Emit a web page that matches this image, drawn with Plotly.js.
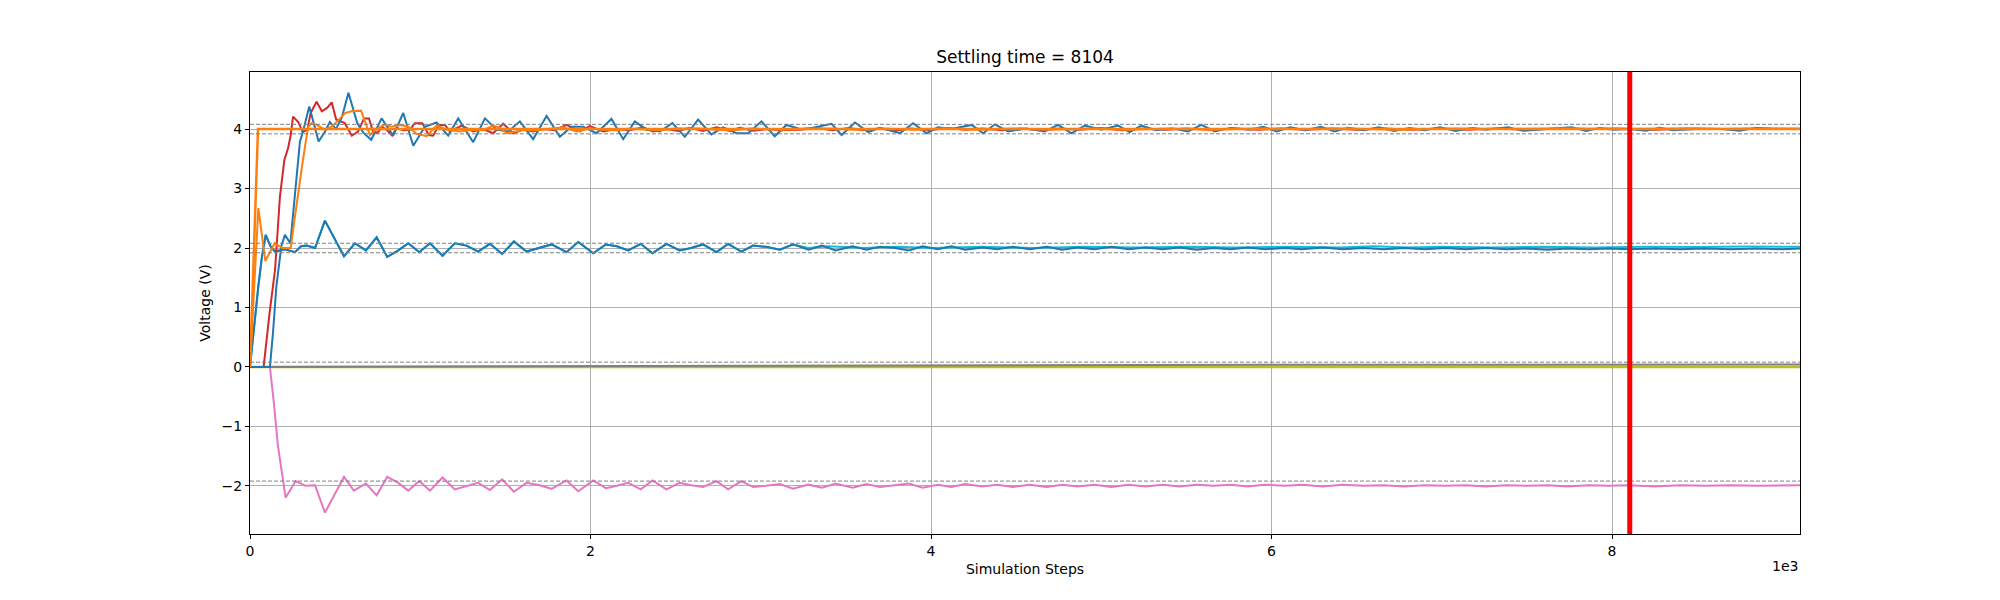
<!DOCTYPE html>
<html>
<head>
<meta charset="utf-8">
<script src="https://cdn.plot.ly/plotly-3.0.1.min.js"></script>
<style>
  html, body { margin: 0; padding: 0; background: #fff; }
  #chart { width: 2000px; height: 600px; }
</style>
</head>
<body>
<div id="chart"></div>
<script>
// settling result and tolerance band levels (gray dashed lines)
const settlingTime = 8104;
const lastStep = 9104;
const bandLevels = [4.08, 3.92, 2.08, 1.92, 0.08, -1.92];

// node voltages: steps / volts per trace
const blue2Steps = [0, 25, 49, 70, 92, 120, 147, 205, 264, 300, 333, 382, 440, 552, 616, 681, 744, 806, 871, 930,
  994, 1057, 1131, 1203, 1272, 1340, 1409, 1481, 1550, 1624, 1702, 1771, 1859, 1928, 2016, 2090, 2155, 2221, 2295, 2364,
  2446, 2524, 2590, 2661, 2740, 2808, 2886, 2955, 3030, 3112, 3190, 3280, 3360, 3440, 3540, 3620, 3700, 3790, 3870, 3950,
  4040, 4120, 4200, 4300, 4390, 4480, 4580, 4680, 4770, 4860, 4960, 5060, 5160, 5260, 5360, 5460, 5560, 5660, 5760, 5860,
  5960, 6080, 6180, 6300, 6420, 6540, 6660, 6780, 6900, 7020, 7140, 7260, 7380, 7500, 7620, 7740, 7860, 7980, 8100, 8250,
  8400, 8550, 8700, 8850, 9000, 9104];
const blue2Volts = [0, 0.75, 1.36, 1.85, 2.22, 2.03, 1.94, 1.98, 1.93, 2.03, 2.04, 2.0, 2.46, 1.86, 2.08, 1.96, 2.18, 1.85, 1.96, 2.08,
  1.93, 2.08, 1.87, 2.08, 2.04, 1.94, 2.07, 1.90, 2.11, 1.94, 2.0, 2.06, 1.93, 2.1, 1.91, 2.06, 2.03, 1.96, 2.07, 1.91,
  2.07, 1.96, 2.0, 2.06, 1.93, 2.07, 1.94, 2.04, 2.02, 1.97, 2.06, 1.97, 2.04, 1.96, 2.03, 1.97, 2.02, 2.0, 1.96, 2.03,
  1.98, 2.03, 1.97, 2.01, 1.98, 2.02, 1.98, 2.02, 1.97, 2.01, 1.98, 2.02, 1.98, 2.01, 1.98, 2.01, 1.97, 2.0, 1.98, 2.01,
  1.98, 2.0, 1.98, 2.01, 1.98, 2.0, 1.98, 2.0, 1.98, 2.0, 1.98, 2.0, 1.98, 1.99, 1.97, 1.99, 1.98, 1.99, 1.98, 1.99,
  1.98, 1.99, 1.98, 1.99, 1.98, 1.99];

// cyan node sits under blue2 early on, only its tail shows
const cyanTailSteps = [3280, 3400, 3600, 3800, 4000, 4300, 4600, 4900, 5200, 5500, 5800, 6100, 6400, 6600, 6800, 7000,
  7300, 7600, 7900, 8200, 8500, 8800, 9104];
const cyanTailVolts = [2.0, 2.03, 2.0, 2.02, 2.0, 2.02, 2.0, 2.02, 2.01, 2.02, 2.01, 2.02, 2.01, 2.03, 2.01, 2.02,
  2.01, 2.02, 2.01, 2.02, 2.015, 2.025, 2.02];

const pinkSteps = [0, 117, 140, 164, 186, 209, 268, 327, 382, 440, 552, 610, 681, 744, 806, 871, 930, 994, 1057, 1131,
  1203, 1272, 1340, 1409, 1481, 1550, 1624, 1702, 1771, 1859, 1928, 2016, 2090, 2155, 2221, 2295, 2364, 2446, 2524, 2590,
  2661, 2740, 2808, 2886, 2955, 3030, 3112, 3190, 3280, 3360, 3440, 3540, 3620, 3700, 3790, 3870, 3950, 4040, 4120, 4200,
  4300, 4390, 4480, 4580, 4680, 4770, 4860, 4960, 5060, 5160, 5260, 5360, 5460, 5560, 5660, 5760, 5860, 5960, 6080, 6180,
  6300, 6420, 6540, 6660, 6780, 6900, 7020, 7140, 7260, 7380, 7500, 7620, 7740, 7860, 7980, 8100, 8250, 8400, 8550, 8700,
  8850, 9000, 9104];
const pinkVolts = [0, 0, -0.6, -1.33, -1.75, -2.2, -1.92, -2.0, -1.99, -2.45, -1.85, -2.08, -1.96, -2.16, -1.85, -1.95, -2.08, -1.92, -2.08, -1.86,
  -2.06, -2.01, -1.95, -2.07, -1.89, -2.1, -1.95, -1.99, -2.05, -1.91, -2.09, -1.91, -2.04, -2.0, -1.95, -2.06, -1.91, -2.06, -1.95, -1.99,
  -2.02, -1.92, -2.06, -1.92, -2.02, -2.0, -1.97, -2.05, -1.98, -2.03, -1.96, -2.03, -1.97, -2.02, -1.99, -1.96, -2.03, -1.98, -2.02, -1.97,
  -2.01, -1.98, -2.02, -1.98, -2.02, -1.98, -2.01, -1.98, -2.02, -1.98, -2.01, -1.98, -2.01, -1.98, -2.0, -1.98, -2.01, -1.98, -2.0, -1.98,
  -2.01, -1.98, -2.0, -1.99, -2.01, -1.99, -2.0, -1.99, -2.01, -1.99, -2.0, -1.99, -2.01, -1.99, -2.0, -1.99, -2.01, -1.99, -2.0, -1.99,
  -2.0, -1.99, -1.99];

const redSteps = [0, 80, 115, 147, 176, 202, 224, 239, 253, 283, 310, 337, 356, 391, 422, 454, 480, 506, 557, 598,
  635, 670, 699, 724, 750, 775, 802, 835, 861, 900, 939, 969, 1012, 1050, 1076, 1110, 1145, 1174, 1243, 1311,
  1370, 1428, 1487, 1546, 1605, 1663, 1722, 1791, 1859, 1937, 1996, 2074, 2153, 2231, 2309, 2368, 2446, 2515, 2583, 2661,
  2740, 2818, 2877, 2955, 3033, 3112, 3229, 3330, 3420, 3520, 3600, 3700, 3790, 3880, 3990, 4100, 4200, 4300, 4420, 4530,
  4640, 4760, 4870, 5000, 5120, 5250, 5380, 5500, 5640, 5780, 5920, 6060, 6200, 6360, 6500, 6660, 6820, 6980, 7150, 7320,
  7500, 7680, 7860, 8040, 8250, 8450, 8650, 8850, 9104];
const redVolts = [0, 0, 0.91, 1.63, 2.87, 3.48, 3.68, 3.9, 4.21, 4.12, 3.95, 3.99, 4.27, 4.46, 4.30, 4.36, 4.45, 4.16, 4.10, 3.89,
  3.96, 4.18, 4.18, 3.94, 3.94, 4.04, 3.99, 3.89, 4.02, 3.98, 3.99, 4.10, 4.10, 3.90, 3.89, 4.07, 4.07, 3.96, 4.06, 3.96,
  4.0, 3.93, 4.09, 3.93, 3.99, 3.96, 4.0, 3.98, 4.07, 3.96, 4.05, 3.96, 4.0, 3.98, 4.03, 3.96, 4.0, 3.97, 4.02, 3.97,
  4.03, 3.97, 4.02, 3.97, 4.0, 3.98, 3.99, 4.02, 3.98, 4.02, 3.98, 4.01, 3.97, 4.01, 3.98, 4.02, 3.99, 4.01, 3.98, 4.01,
  3.98, 4.01, 3.99, 4.02, 3.98, 4.01, 3.99, 4.01, 3.99, 4.01, 3.99, 4.01, 3.99, 4.01, 3.99, 4.01, 3.99, 4.01, 3.99, 4.01,
  3.99, 4.01, 4.0, 4.01, 3.99, 4.01, 4.0, 4.01, 4.0];

const blue4Steps = [0, 117, 135, 155, 184, 205, 237, 266, 293, 321, 348, 376, 403, 439, 469, 505, 540, 578, 603, 630,
  665, 712, 773, 841, 900, 959, 1027, 1096, 1164, 1223, 1311, 1380, 1448, 1517, 1585, 1663, 1742, 1820, 1888, 1957,
  2035, 2123, 2192, 2260, 2329, 2407, 2481, 2554, 2632, 2710, 2779, 2857, 2926, 3004, 3082, 3151, 3230, 3300, 3416, 3475,
  3553, 3631, 3700, 3817, 3895, 3974, 4040, 4120, 4238, 4306, 4375, 4453, 4560, 4668, 4747, 4825, 4903, 5000, 5099, 5167,
  5236, 5320, 5420, 5510, 5588, 5666, 5760, 5872, 5950, 6030, 6110, 6200, 6290, 6370, 6450, 6540, 6630, 6720, 6810, 6900,
  6990, 7080, 7180, 7260, 7389, 7477, 7620, 7761, 7849, 7927, 8010, 8100, 8201, 8279, 8358, 8500, 8640, 8749, 8847, 8950,
  9104];
const blue4Volts = [0, 0, 0.57, 1.36, 2.03, 2.22, 2.08, 2.95, 3.78, 4.07, 4.38, 4.08, 3.79, 3.95, 4.12, 4.0, 4.2, 4.61, 4.38, 4.1,
  3.94, 3.82, 4.18, 3.89, 4.27, 3.72, 4.04, 4.11, 3.89, 4.18, 3.78, 4.18, 3.99, 3.96, 4.13, 3.83, 4.22, 3.87, 4.04, 4.04,
  3.93, 4.17, 3.83, 4.13, 3.99, 3.96, 4.10, 3.87, 4.16, 3.91, 4.03, 3.93, 3.93, 4.13, 3.88, 4.07, 4.0, 4.02, 4.09, 3.90,
  4.11, 3.95, 4.02, 3.93, 4.10, 3.93, 4.03, 4.0, 4.07, 3.93, 4.08, 3.96, 4.01, 3.96, 4.07, 3.93, 4.06, 3.99, 4.06, 3.95,
  4.06, 3.98, 4.01, 3.96, 4.07, 3.96, 4.02, 3.99, 4.04, 3.96, 4.03, 3.98, 4.04, 3.96, 4.02, 3.98, 4.03, 3.97, 4.02, 3.98,
  4.03, 3.97, 4.02, 3.99, 4.03, 3.97, 4.0, 4.03, 3.97, 4.02, 3.99, 4.0, 3.97, 4.02, 3.98, 4.0, 4.0, 3.97, 4.02, 4.0,
  4.0];

const orangeBSteps = [0, 49, 90, 145, 190, 239, 264, 284, 303, 323, 342, 362, 391, 440, 479, 520, 558, 597, 652, 675,
  704, 744, 792, 830, 881, 930, 978, 1037, 1096, 1155, 1233, 1300, 1370, 1428, 1470, 1507, 1600, 1683, 1761, 1839,
  1918, 1996, 2080, 2153, 2230, 2309, 2400, 2500, 2642, 2740, 2838, 2940, 3033, 3130, 3229, 3400, 3560, 3720, 3900, 4080,
  4280, 4480, 4700, 4920, 5150, 5400, 5650, 5900, 6150, 6450, 6750, 7050, 7350, 7700, 8050, 8400, 8750, 9104];
const orangeBVolts = [0, 2.67, 1.78, 2.08, 2.0, 2.0, 2.53, 2.98, 3.32, 3.71, 4.04, 4.1, 4.07, 3.99, 4.04, 4.15, 4.27, 4.3, 4.31, 4.13,
  3.9, 4.0, 4.08, 4.04, 4.07, 4.04, 3.92, 3.88, 4.06, 3.99, 3.96, 3.99, 3.98, 4.06, 4.02, 3.93, 3.98, 3.98, 4.01, 4.03,
  3.96, 4.01, 3.99, 3.98, 4.01, 4.0, 3.98, 4.01, 4.01, 3.99, 3.98, 4.01, 4.0, 3.99, 4.0, 4.01, 3.99, 4.01, 3.99, 4.01,
  3.99, 4.01, 3.99, 4.01, 3.99, 4.01, 3.99, 4.01, 4.0, 4.01, 3.99, 4.01, 4.0, 4.01, 4.0, 4.01, 4.0, 4.01];

// reference step that jumps straight to the target
const orangeASteps = [0, 47, 9104];
const orangeAVolts = [0, 4.0, 4.0];

const oliveSteps = [0, 9104];
const oliveVolts = [0, 0];
const graySteps = [0, 120, 1500, 3000, 4500, 6000, 9104];
const grayVolts = [0, 0, 0.01, 0.02, 0.03, 0.035, 0.04];

const C = {
    blue: '#1f77b4', orange: '#ff7f0e', red: '#d62728', pink: '#e377c2',
    gray: '#7f7f7f', olive: '#bcbd22', cyan: '#17becf',
};

function line(x, y, color, width = 2) {
    return { x, y, type: 'scatter', mode: 'lines', hoverinfo: 'skip', line: { color, width } };
}

const cyanSteps = blue2Steps.filter(s => s <= 3190).concat(cyanTailSteps);
const cyanVolts = blue2Volts.slice(0, blue2Steps.filter(s => s <= 3190).length).concat(cyanTailVolts);

const traces = [
    line(oliveSteps, oliveVolts, C.olive, 2.5),
    line(graySteps, grayVolts, C.gray),
    line(cyanSteps, cyanVolts, C.cyan),
    line(blue2Steps, blue2Volts, C.blue),
    line(pinkSteps, pinkVolts, C.pink),
    line(redSteps, redVolts, C.red),
    line(blue4Steps, blue4Volts, C.blue),
    line(orangeBSteps, orangeBVolts, C.orange),
    line(orangeASteps, orangeAVolts, C.orange, 2.5),
];

const shapes = [
    ...bandLevels.map(v => ({
        type: 'line', xref: 'paper', yref: 'y', x0: 0, x1: 1, y0: v, y1: v,
        line: { color: '#808080', width: 1, dash: '4px,2px' },
    })),
    { type: 'line', xref: 'x', yref: 'paper', x0: settlingTime, x1: settlingTime, y0: 0, y1: 1,
      line: { color: '#ff0000', width: 5 } },
];

const axisCommon = {
    showline: true, mirror: true, linecolor: '#000', linewidth: 1,
    ticks: 'outside', ticklen: 4, tickwidth: 1, tickcolor: '#000',
    showgrid: true, gridcolor: '#b0b0b0', gridwidth: 1, zeroline: false,
    tickfont: { size: 14, color: '#000' },
};

const layout = {
    width: 2000, height: 600,
    margin: { l: 250, r: 200, t: 72, b: 66 },
    paper_bgcolor: '#fff', plot_bgcolor: '#fff',
    font: { family: 'DejaVu Sans, sans-serif', color: '#000', size: 14 },
    showlegend: false,
    title: { text: 'Settling time = ' + settlingTime, font: { size: 17 }, x: 0.5125, xanchor: 'center', y: 0.905, yanchor: 'middle' },
    xaxis: Object.assign({}, axisCommon, {
        range: [0, lastStep],
        tickvals: [0, 2000, 4000, 6000, 8000], ticktext: ['0', '2', '4', '6', '8'],
        title: { text: 'Simulation Steps', font: { size: 14 }, standoff: 6 },
    }),
    yaxis: Object.assign({}, axisCommon, {
        range: [-2.81, 4.96],
        tickvals: [-2, -1, 0, 1, 2, 3, 4], ticktext: ['\u22122', '\u22121', '0', '1', '2', '3', '4'],
        title: { text: 'Voltage (V)', font: { size: 14 }, standoff: 7 },
    }),
    shapes,
    annotations: [{
        text: '1e3', xref: 'paper', yref: 'paper', x: 1, y: -0.069, xanchor: 'right', yanchor: 'middle',
        showarrow: false, font: { size: 14 },
    }],
};

Plotly.newPlot('chart', traces, layout, { displayModeBar: false, staticPlot: true });
</script>
</body>
</html>
